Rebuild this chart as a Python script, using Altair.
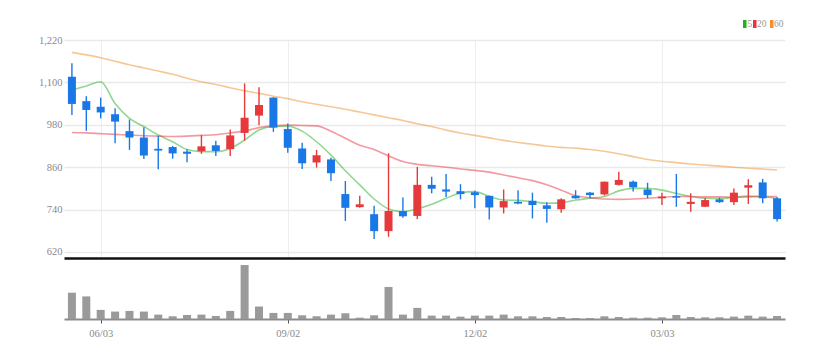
import altair as alt
import pandas as pd

# ---- data (weekly candles) ----
dates = pd.date_range("2024-05-20", periods=50, freq="7D").strftime("%Y-%m-%d").tolist()
opens = [1116, 1047, 1031, 1010, 962, 944, 912, 917, 904, 905,
         922, 911, 957, 1006, 1057, 968, 913, 873, 882, 784,
         747, 727, 679, 736, 722, 810, 797, 792, 789, 779,
         746, 762, 765, 752, 741, 779, 788, 783, 810, 819,
         797, 772, 778, 756, 748, 769, 761, 802, 817, 772]
highs = [1154, 1061, 1057, 1027, 995, 973, 948, 920, 911, 951,
         935, 967, 1097, 1086, 1058, 984, 929, 909, 887, 821,
         779, 751, 899, 774, 861, 833, 841, 812, 793, 780,
         797, 795, 788, 761, 772, 795, 790, 819, 847, 822,
         816, 788, 841, 786, 773, 774, 800, 826, 827, 776]
lows = [1008, 963, 998, 928, 909, 883, 854, 884, 874, 898,
        892, 892, 935, 979, 960, 901, 855, 859, 821, 708,
        745, 657, 663, 717, 713, 786, 776, 769, 744, 712,
        729, 755, 715, 703, 731, 771, 772, 780, 808, 791,
        772, 753, 748, 734, 747, 759, 753, 756, 758, 706]
closes = [1039, 1022, 1015, 989, 944, 893, 907, 899, 898, 919,
          906, 950, 1000, 1036, 972, 915, 871, 894, 843, 745,
          755, 679, 736, 721, 810, 799, 791, 784, 781, 746,
          764, 757, 753, 742, 769, 772, 781, 819, 824, 803,
          781, 777, 774, 762, 767, 761, 788, 809, 772, 713]
volumes = [78, 67, 27, 22, 24, 22, 13, 8, 12, 13,
           9, 24, 160, 37, 18, 18, 11, 8, 13, 17,
           4, 11, 95, 13, 33, 10, 10, 7, 10, 10,
           13, 8, 8, 6, 6, 3, 3, 8, 6, 4,
           4, 5, 12, 6, 5, 5, 7, 10, 7, 9]
ma5 = [1078, 1090, 1102, 1040, 998, 975, 951, 932, 910, 904,
       904, 913, 937, 965, 975, 976, 962, 932, 894, 850,
       810, 770, 742, 734, 742, 755, 772, 787, 791, 777,
       767, 766, 762, 758, 759, 767, 772, 777, 793, 800,
       800, 795, 786, 777, 772, 771, 775, 778, 777, 771]
ma20 = [958, 957, 955, 953, 951, 949, 948, 947, 948, 950,
        952, 957, 962, 972, 977, 979, 978, 977, 962, 942,
        922, 910, 892, 876, 868, 864, 860, 855, 851, 846,
        838, 830, 822, 810, 795, 779, 774, 770, 769, 770,
        772, 775, 777, 777, 776, 776, 775, 776, 777, 777]
ma60 = [1185, 1178, 1170, 1160, 1150, 1141, 1132, 1123, 1112, 1102,
        1094, 1085, 1076, 1069, 1061, 1054, 1045, 1038, 1031, 1024,
        1016, 1008, 1000, 992, 983, 975, 965, 957, 950, 943,
        936, 930, 925, 920, 916, 914, 910, 905, 898, 890,
        882, 877, 873, 869, 866, 863, 860, 857, 855, 852]
ma_names = ["5", "20", "60"]
ma_colors = ["#22b022", "#e8343f", "#f0922f"]
tick_dates = ["2024-06-03", "2024-09-02", "2024-12-02", "2025-03-03"]
price_ticks = [620, 740, 860, 980, 1100, 1220]

UP, DOWN = "#e6393b", "#1a78e6"
FONT = "Liberation Sans Narrow"

df = pd.DataFrame({"date": dates, "open": opens, "high": highs, "low": lows,
                   "close": closes, "volume": volumes})
df["dir"] = ["up" if c >= o else "down" for o, c in zip(opens, closes)]

ma_df = pd.concat([
    pd.DataFrame({"date": dates, "ma": name, "value": vals})
    for name, vals in zip(ma_names, [ma5, ma20, ma60])
])
legend_df = pd.DataFrame({"ma": ma_names})

xscale = alt.Scale(type="point", padding=0.55)
yscale = alt.Scale(domain=[603, 1220], zero=False, nice=False)
y_axis = alt.Axis(values=price_ticks, format=",d", domain=False, ticks=False,
                  labelPadding=2, labelColor="#8a8a8a", labelFontSize=10.5, labelFont=FONT,
                  gridColor="#e9e9e9", gridWidth=1.5)
x_axis_top = alt.Axis(values=tick_dates, labels=False, ticks=False, domain=True,
                      domainColor="#111111", domainWidth=2.5, grid=True,
                      gridColor="#eeeeee", gridWidth=1)
dir_color = alt.Color("dir:N", scale=alt.Scale(domain=["up", "down"], range=[UP, DOWN]), legend=None)
ma_scale = alt.Scale(domain=ma_names, range=ma_colors)


def X():
    return alt.X("date:O", scale=xscale, title=None, axis=x_axis_top)


W = 721
ma_lines = alt.Chart(ma_df).mark_line(strokeWidth=1.6, strokeOpacity=0.5, interpolate="monotone").encode(
    x=X(),
    y=alt.Y("value:Q", scale=yscale, title=None, axis=y_axis),
    stroke=alt.Stroke("ma:N", scale=ma_scale, legend=None),
    detail="ma:N",
)
base = alt.Chart(df).encode(x=X())
wicks = base.mark_rule(strokeWidth=1.4).encode(
    y=alt.Y("low:Q", scale=yscale, title=None, axis=y_axis), y2="high:Q", color=dir_color)
bodies = base.mark_bar(size=8).encode(
    y=alt.Y("open:Q", scale=yscale, title=None, axis=y_axis), y2="close:Q", color=dir_color)

# manual legend (top right, above the plot)
legend_layers = []
for name, col, rx, tx in zip(ma_names, ma_colors, [679, 689, 706], [683.5, 693, 710]):
    sub = alt.Chart(legend_df).transform_filter(alt.datum.ma == name)
    legend_layers.append(sub.mark_rect(color=col).encode(
        x=alt.value(rx), x2=alt.value(rx + 3.5), y=alt.value(-20), y2=alt.value(-12)))
    legend_layers.append(sub.mark_text(align="left", baseline="middle", fontSize=9.5, font=FONT,
                                       color="#999999").encode(
        x=alt.value(tx), y=alt.value(-16), text="ma:N"))

price = alt.layer(ma_lines, wicks, bodies, *legend_layers).properties(width=W, height=218)

volume = alt.Chart(df).mark_bar(size=8, color="#9a9a9a").encode(
    x=alt.X("date:O", scale=xscale, title=None,
            axis=alt.Axis(values=tick_dates, grid=False, domainColor="#8c8c8c", domainWidth=2,
                          tickColor="#555555", tickSize=4, labelColor="#8a8a8a", labelFontSize=10.5,
                          labelFont=FONT, labelAngle=0, labelPadding=5,
                          labelExpr="slice(datum.value, 5, 7) + '/' + slice(datum.value, 8, 10)")),
    y=alt.Y("volume:Q", scale=alt.Scale(domain=[0, 172], nice=False), axis=None),
).properties(width=W, height=58)

chart = alt.vconcat(price, volume, spacing=3).properties(
    padding={"left": 30, "top": 11, "right": 5, "bottom": 5}
).configure_view(stroke=None)

chart.save("out.html", embed_options={"renderer": "svg", "actions": False})
